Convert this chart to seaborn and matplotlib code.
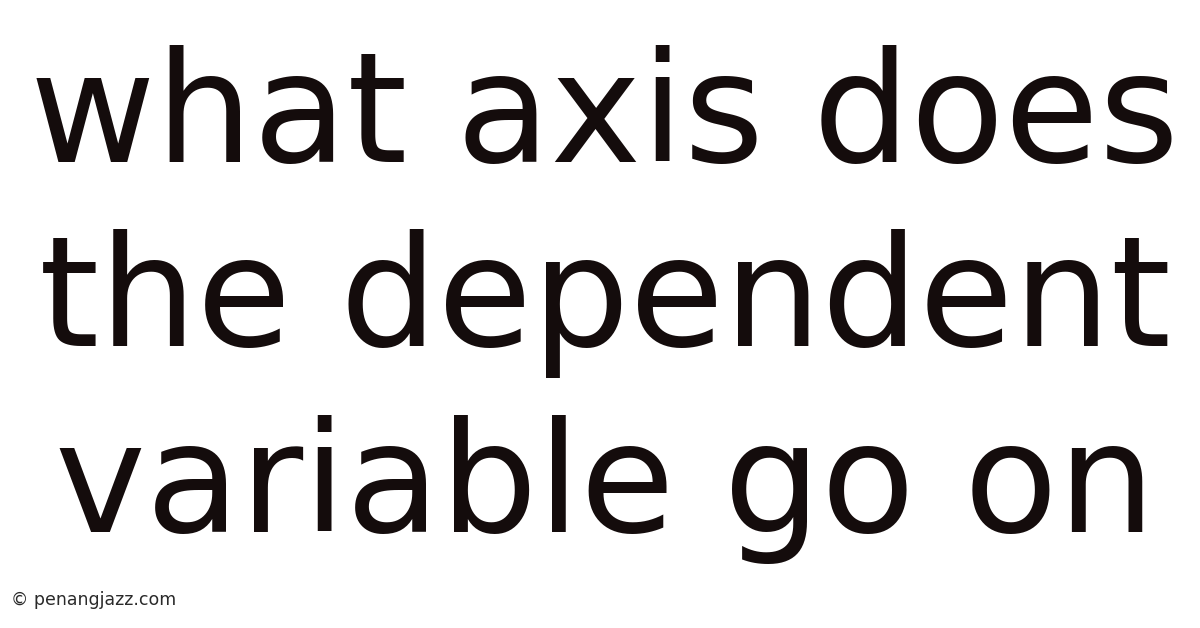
import matplotlib
matplotlib.use("Agg")
import matplotlib.pyplot as plt
import seaborn as sns

# title text, one entry per line
title_lines = ["what axis does", "the dependent", "variable go on"]
watermark = "\u00a9 penangjazz.com"

sns.set_theme(style="white")
plt.rcParams['font.family'] = ['DejaVu Sans']

W, H = 1200, 628
fig = plt.figure(figsize=(W / 100, H / 100), dpi=100)
ax = fig.add_axes([0, 0, 1, 1])
ax.set_xlim(0, W)
ax.set_ylim(H, 0)
ax.axis("off")

text_color = "#140c0c"
baselines = [162, 346, 532]
for line, yb in zip(title_lines, baselines):
    ax.text(605, yb, line, ha="center", va="baseline",
            fontsize=110.6, color=text_color)

ax.text(11, 605, watermark, ha="left", va="baseline",
        fontsize=12.5, color="#2a2a2a")

fig.savefig("out.png", dpi=100, facecolor="white")
